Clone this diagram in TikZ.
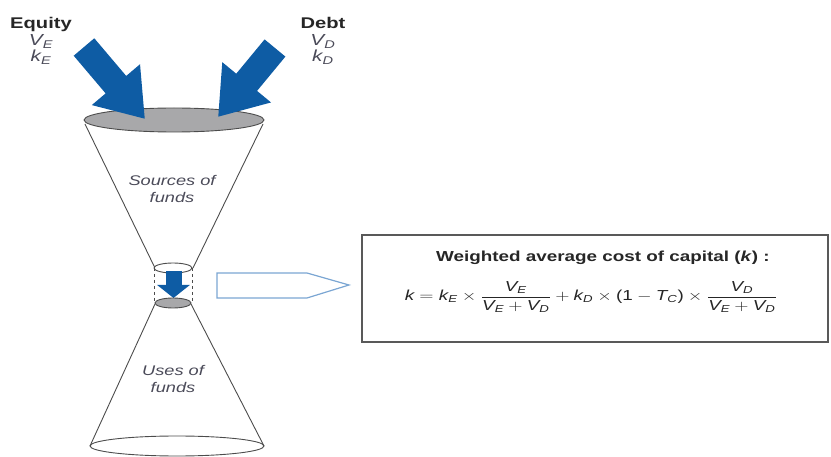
\documentclass[tikz,border=0pt]{standalone}
\usepackage{amsmath}
\usepackage{graphicx}
\usepackage{fontspec}
\setmainfont{Liberation Sans}
\usetikzlibrary{arrows.meta}
\definecolor{fundblue}{HTML}{0E5CA4}
\definecolor{rimgray}{HTML}{A8A8AA}
\definecolor{labelgray}{HTML}{4A4A58}
\definecolor{outlineblue}{HTML}{7BA6D3}
\newcommand{\mi}[1]{\textit{#1}}
\newcommand{\wide}[1]{\scalebox{1.3}[1]{\begin{tabular}{@{}c@{}}#1\end{tabular}}}

\begin{document}
\begin{tikzpicture}[x=1pt,y=1pt,
  funnel/.style={line width=0.9pt,draw=black!70},
  inflow/.style={line width=27pt,fundblue,-{Triangle[length=45pt,width=60pt]}},
  srclabel/.style={font=\fontsize{15.5}{17}\selectfont\bfseries,text=black!85,inner sep=0pt},
  varlabel/.style={font=\fontsize{16}{18}\selectfont\itshape,text=labelgray,inner sep=0pt},
  tag/.style={font=\fontsize{14}{17}\selectfont\itshape,text=labelgray,inner sep=0pt}
]
  \useasboundingbox (0,0) rectangle (831,-457);
  % sources
  \node[srclabel] (equity) at (41,-25) {\wide{Equity}};
  \node[varlabel] (eqV) at (41,-42) {\wide{$\mi{V}_{\mi{E}}$}};
  \node[varlabel] (eqk) at (41,-58) {\wide{$\mi{k}_{\mi{E}}$}};
  \node[srclabel] (debt) at (323,-25) {\wide{Debt}};
  \node[varlabel] (debtV) at (323,-42) {\wide{$\mi{V}_{\mi{D}}$}};
  \node[varlabel] (debtk) at (323,-58) {\wide{$\mi{k}_{\mi{D}}$}};
  % upper funnel
  \draw[funnel] (85,-124) -- (155,-268);
  \draw[funnel] (263,-124) -- (193,-268);
  \draw[funnel,fill=rimgray] (174,-120) ellipse [x radius=90pt, y radius=12pt];
  \node[tag] (sources) at (172,-191) {\wide{Sources of\\funds}};
  % inflows
  \coordinate (eqtail) at (84,-47);
  \coordinate (eqtip) at (145,-119);
  \coordinate (debttail) at (275,-48);
  \coordinate (debttip) at (218,-117);
  \draw[inflow] (eqtail) -- (eqtip);
  \draw[inflow] (debttail) -- (debttip);
  % neck
  \draw[funnel,fill=white] (173,-268) ellipse [x radius=19pt, y radius=5pt];
  \draw[funnel,dashed,line width=0.6pt] (154,-268) -- (154,-303);
  \draw[funnel,dashed,line width=0.6pt] (192,-268) -- (192,-303);
  \coordinate (necktop) at (173.5,-271);
  \coordinate (neckbot) at (173.5,-298);
  \draw[line width=16pt,fundblue,-{Triangle[length=13pt,width=32pt]}] (necktop) -- (neckbot);
  \draw[funnel,fill=rimgray] (173,-303) ellipse [x radius=18pt, y radius=5pt];
  % lower funnel
  \draw[funnel] (155,-304) -- (90,-446);
  \draw[funnel] (191,-304) -- (264,-446);
  \draw[funnel] (177,-446) ellipse [x radius=87pt, y radius=10pt];
  \node[tag] (uses) at (173,-381) {\wide{Uses of\\funds}};
  % outline arrow
  \draw[outlineblue,line width=1.2pt,line join=miter]
    (217,-273) -- (307,-273) -- (349,-285) -- (307,-298) -- (217,-298) -- cycle;
  % formula box
  \node[draw=black!65,line width=1.3pt,minimum width=466pt,minimum height=107pt,inner sep=0pt]
    (waccbox) at (595,-288.5) {};
  \node[font=\fontsize{14.5}{17}\selectfont\bfseries,text=black!85,inner sep=0pt]
    (wacctitle) at (603,-258) {\wide{Weighted average cost of capital (\mi{k}) :}};
  \node[font=\fontsize{14.5}{17}\selectfont,text=black!85,inner sep=0pt] (wacc) at (591,-297)
    {\wide{$\mi{k} = \mi{k}_{\mi{E}} \times \dfrac{\mi{V}_{\mi{E}}}{\mi{V}_{\mi{E}} + \mi{V}_{\mi{D}}}
      + \mi{k}_{\mi{D}} \times \text{(1}-\mi{T}_{\mi{C}}\text{)} \times
      \dfrac{\mi{V}_{\mi{D}}}{\mi{V}_{\mi{E}} + \mi{V}_{\mi{D}}}$}};
\end{tikzpicture}
\end{document}
